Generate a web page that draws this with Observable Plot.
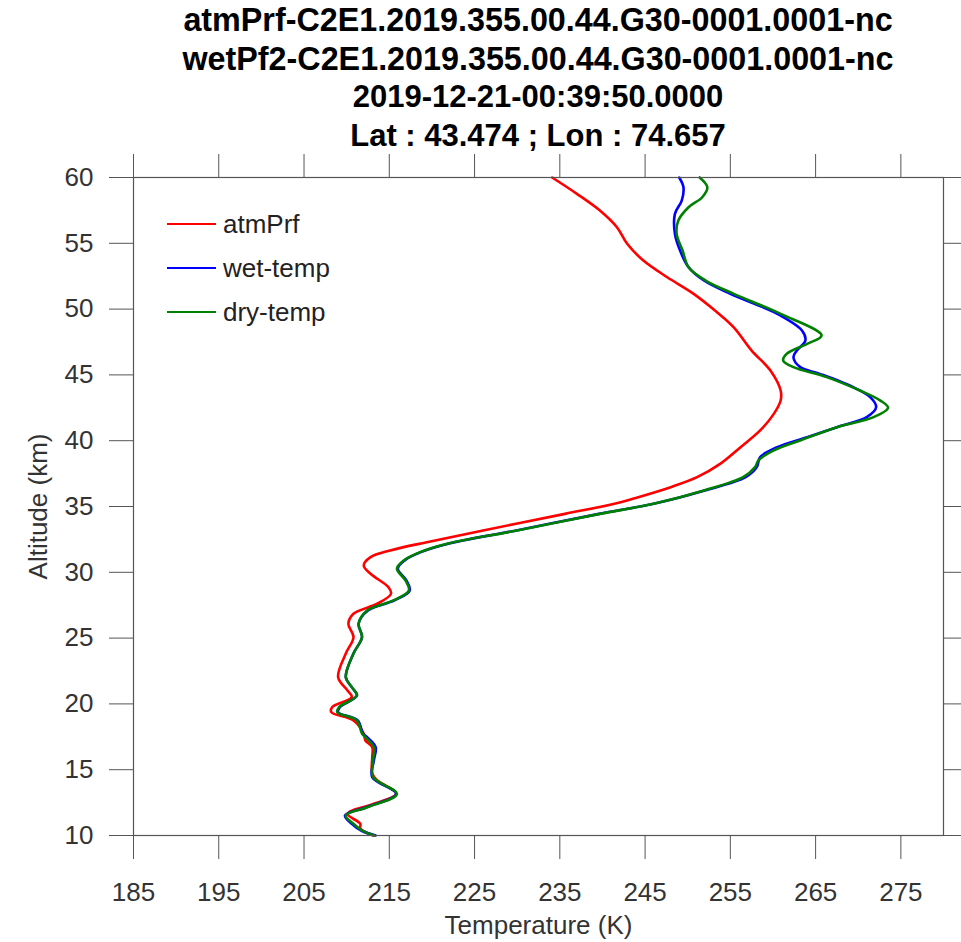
<!DOCTYPE html>
<html>
<head>
<meta charset="utf-8">
<script src="https://cdn.jsdelivr.net/npm/d3@7"></script>
<script src="https://cdn.jsdelivr.net/npm/@observablehq/plot@0.6"></script>
<style>
  html, body { margin: 0; padding: 0; background: #fff; overflow: hidden; }
  #wrap { position: relative; width: 961px; height: 942px; font-family: "Liberation Sans", Arial, Helvetica, sans-serif; }
  #title { margin-left: 133px; width: 810px; height: 150px; padding-top: 1px; box-sizing: border-box;
           text-align: center; font-weight: bold; font-size: 31px; line-height: 38.5px; color: #000; white-space: nowrap; }
  #title .wide { font-size: 32.3px; }
  #legend { position: absolute; left: 167px; top: 202px; }
  .row { display: flex; align-items: center; height: 44px; }
  .sw { width: 49px; height: 0; border-top: 2.5px solid; margin-right: 7px; }
  .lab { font-size: 26px; color: #222; }
  svg { display: block; }
</style>
</head>
<body>
<div id="wrap">
  <div id="title"></div>
  <div id="chart"></div>
  <div id="legend"></div>
</div>
<script>
const titleLines = [
  "atmPrf-C2E1.2019.355.00.44.G30-0001.0001-nc",
  "wetPf2-C2E1.2019.355.00.44.G30-0001.0001-nc",
  "2019-12-21-00:39:50.0000",
  "Lat : 43.474 ; Lon : 74.657"
];
const xLabel = "Temperature (K)";
const yLabel = "Altitude (km)";
const xTicks = [185, 195, 205, 215, 225, 235, 245, 255, 265, 275];
const yTicks = [10, 15, 20, 25, 30, 35, 40, 45, 50, 55, 60];
const seriesNames = ["atmPrf", "wet-temp", "dry-temp"];
const seriesColors = ["#ff0000", "#0000ff", "#008000"];

// atmPrf
const altRed = [60.0, 58.76, 57.49, 56.22, 54.96, 53.69, 52.42, 51.16, 49.89, 48.62, 46.85, 45.33, 43.81, 43.05, 42.04, 40.78, 39.51, 38.24, 37.23, 36.47, 35.71, 35.21, 34.44, 33.18, 32.29, 31.66, 31.15, 30.52, 29.89, 28.87, 28.37, 27.61, 26.85, 26.09, 25.07, 23.83, 22.03, 21.02, 20.51, 19.75, 19.37, 18.74, 17.75, 17.22, 16.71, 15.95, 14.69, 14.18, 13.17, 12.41, 11.65, 10.89, 10.53, 10.0];
const tempRed = [234.1, 237.0, 239.7, 241.7, 242.9, 244.8, 247.6, 250.7, 253.2, 255.4, 257.5, 259.7, 260.9, 260.9, 260.1, 258.5, 256.2, 253.8, 251.1, 248.0, 244.2, 241.4, 235.6, 226.0, 219.4, 215.1, 212.8, 212.0, 212.8, 214.9, 215.2, 213.6, 210.8, 210.2, 210.8, 209.9, 209.0, 210.1, 210.6, 208.3, 208.2, 210.8, 212.0, 212.2, 213.0, 213.0, 213.0, 213.6, 215.8, 213.2, 210.1, 211.6, 211.6, 213.1];

// wet-temp
const altBlue = [60.0, 59.26, 58.25, 57.24, 55.72, 54.45, 53.18, 52.17, 51.16, 49.64, 48.37, 47.61, 46.85, 46.34, 45.59, 45.08, 44.07, 43.31, 42.55, 41.79, 41.03, 40.27, 39.51, 38.75, 37.99, 37.23, 36.22, 35.21, 34.44, 33.18, 32.17, 31.53, 30.90, 30.27, 29.38, 28.62, 27.86, 27.10, 26.09, 25.07, 23.83, 22.03, 21.27, 20.64, 19.75, 19.37, 18.74, 17.75, 17.47, 16.71, 15.73, 14.43, 13.17, 12.15, 11.52, 10.89, 10.38, 10.0];
const tempBlue = [249.0, 249.5, 249.3, 248.5, 248.5, 249.1, 250.1, 251.9, 255.0, 260.5, 263.4, 263.8, 262.8, 262.4, 263.2, 265.5, 269.4, 271.4, 272.1, 271.0, 267.5, 264.0, 260.5, 258.5, 258.1, 256.8, 252.0, 246.0, 239.6, 229.9, 221.9, 218.7, 216.8, 216.0, 217.0, 217.4, 215.6, 212.5, 211.4, 211.8, 210.8, 209.9, 210.6, 211.2, 209.2, 209.0, 211.3, 211.9, 212.4, 213.4, 213.2, 213.0, 215.8, 212.3, 209.8, 210.6, 211.7, 213.4];

// dry-temp
const altGreen = [60.0, 59.26, 58.50, 57.74, 56.73, 55.72, 54.45, 53.18, 52.17, 51.16, 49.64, 48.0, 47.36, 46.60, 46.09, 45.59, 44.83, 43.81, 43.05, 42.50, 41.79, 41.03, 40.02, 39.26, 38.50, 37.99, 37.23, 36.22, 35.21, 34.44, 33.18, 32.17, 31.53, 30.90, 30.27, 29.38, 28.62, 27.86, 27.10, 26.09, 25.07, 23.83, 22.03, 21.27, 20.64, 19.75, 19.37, 18.74, 17.75, 17.47, 16.71, 15.73, 14.43, 13.17, 12.15, 11.52, 10.89, 10.38, 10.0];
const tempGreen = [251.4, 252.3, 251.7, 250.1, 248.9, 248.7, 249.4, 250.1, 252.1, 255.4, 260.9, 265.7, 264.0, 261.6, 261.2, 262.4, 266.3, 270.2, 272.6, 273.5, 271.8, 267.5, 263.2, 260.1, 258.3, 257.9, 256.5, 251.9, 246.0, 239.7, 230.0, 221.8, 218.6, 216.7, 215.9, 216.9, 217.3, 215.5, 212.4, 211.4, 211.8, 210.8, 209.9, 210.6, 211.2, 209.1, 208.9, 211.2, 211.8, 212.2, 213.2, 213.1, 213.1, 215.9, 212.4, 209.9, 210.8, 211.8, 213.2];

const toRows = (alts, temps) => alts.map((a, i) => ({alt: a, temp: temps[i]}));
const red = toRows(altRed, tempRed);
const blue = toRows(altBlue, tempBlue);
const green = toRows(altGreen, tempGreen);

document.getElementById("title").innerHTML = titleLines.map((t, i) => `<div class="${i < 2 ? "wide" : ""}">${t}</div>`).join("");

const axisStroke = "#555";
const chart = Plot.plot({
  width: 961,
  height: 792,
  marginTop: 27,
  marginBottom: 107,
  marginLeft: 133,
  marginRight: 18,
  x: {domain: [185, 280]},
  y: {domain: [10, 60]},
  style: {fontFamily: "'Liberation Sans', Arial, Helvetica, sans-serif", fontSize: "26px", color: "#333", background: "white"},
  marks: [
    Plot.line(red, {x: "temp", y: "alt", stroke: seriesColors[0], strokeWidth: 2.6, curve: "catmull-rom"}),
    Plot.line(blue, {x: "temp", y: "alt", stroke: seriesColors[1], strokeWidth: 2.6, curve: "catmull-rom"}),
    Plot.line(green, {x: "temp", y: "alt", stroke: seriesColors[2], strokeWidth: 2.6, curve: "catmull-rom"}),
    Plot.axisX({anchor: "bottom", ticks: xTicks, tickSize: 24, tickPadding: 23, label: null, stroke: axisStroke, fontSize: 26}),
    Plot.axisX({anchor: "top", ticks: xTicks, tickSize: 24, tickFormat: () => "", label: null, stroke: axisStroke}),
    Plot.axisY({anchor: "left", ticks: yTicks, tickSize: 24, tickPadding: 16, label: null, stroke: axisStroke, fontSize: 26}),
    Plot.axisY({anchor: "right", ticks: yTicks, tickSize: 18, tickFormat: () => "", label: null, stroke: axisStroke}),
    Plot.frame({stroke: axisStroke, strokeWidth: 1.2}),
    Plot.text([xLabel], {text: d => d, frameAnchor: "bottom", lineAnchor: "middle", textAnchor: "middle", dy: 90, fontSize: 26, fill: "#333"}),
    Plot.text([yLabel], {text: d => d, frameAnchor: "left", lineAnchor: "middle", textAnchor: "middle", rotate: -90, dx: -95, fontSize: 26, fill: "#333"})
  ]
});
document.getElementById("chart").appendChild(chart);

document.getElementById("legend").innerHTML = seriesNames.map((n, i) =>
  `<div class="row"><span class="sw" style="border-top-color:${seriesColors[i]}"></span><span class="lab">${n}</span></div>`
).join("");
</script>
</body>
</html>
